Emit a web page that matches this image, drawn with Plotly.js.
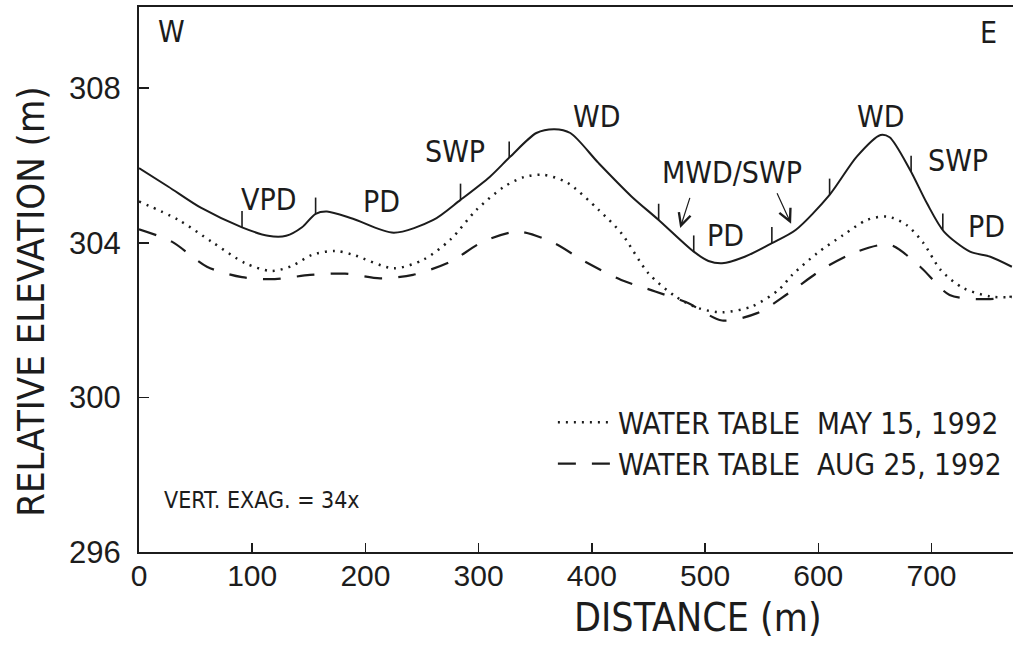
<!DOCTYPE html>
<html>
<head>
<meta charset="utf-8">
<script src="https://cdn.plot.ly/plotly-3.0.1.min.js"></script>
<style>html,body{margin:0;padding:0;background:#fff;overflow:hidden;}#chart{width:1013px;height:653px;}</style>
</head>
<body>
<div id="chart"></div>
<script>
// ---- data ----
const surfaceX = [0, 26, 55, 91, 114, 130, 144, 156, 166, 189, 225, 260, 284, 310, 328, 351, 367, 381, 406, 435, 459, 490, 503, 515, 535, 559, 580, 610, 634, 655, 663, 681, 696, 711, 734, 752, 771];
const surfaceY = [305.93, 305.45, 304.90, 304.40, 304.18, 304.18, 304.40, 304.75, 304.81, 304.62, 304.26, 304.59, 305.11, 305.71, 306.23, 306.84, 306.94, 306.84, 306.06, 305.20, 304.59, 303.77, 303.53, 303.47, 303.64, 303.99, 304.33, 305.24, 306.23, 306.79, 306.73, 305.89, 305.02, 304.29, 303.77, 303.64, 303.38];

const mayX = [0, 35, 64, 94, 117, 135, 153, 173, 189, 225, 251, 275, 298, 322, 340, 357, 378, 406, 426, 450, 474, 494, 515, 541, 565, 577, 599, 622, 643, 661, 678, 693, 708, 728, 752, 771];
const mayY = [305.07, 304.59, 304.03, 303.47, 303.27, 303.40, 303.69, 303.79, 303.69, 303.34, 303.56, 304.08, 304.85, 305.44, 305.70, 305.76, 305.56, 304.85, 304.25, 303.21, 302.61, 302.31, 302.20, 302.35, 302.78, 303.17, 303.73, 304.20, 304.59, 304.68, 304.46, 303.99, 303.30, 302.83, 302.61, 302.59];

const augX = [0, 29, 60, 91, 120, 151, 182, 213, 242, 275, 304, 335, 366, 394, 426, 456, 485, 515, 546, 574, 605, 634, 663, 690, 716, 749, 771];
const augY = [304.35, 304.03, 303.38, 303.11, 303.06, 303.17, 303.20, 303.08, 303.17, 303.51, 304.03, 304.29, 304.00, 303.51, 303.04, 302.74, 302.44, 301.99, 302.18, 302.70, 303.34, 303.77, 303.95, 303.38, 302.65, 302.54, 302.61];

// boundaries between landscape units along the surface profile
const boundaryX = [91, 156, 284, 327, 459, 490, 559, 610, 682, 710];

const unitLabels = ['VPD', 'PD', 'SWP', 'WD', 'MWD/SWP', 'PD', 'WD', 'SWP', 'PD'];
const seriesNames = ['WATER TABLE  MAY 15, 1992', 'WATER TABLE  AUG 25, 1992'];
const xTicks = [0, 100, 200, 300, 400, 500, 600, 700];
const yTicks = [296, 300, 304, 308];
const xTitle = 'DISTANCE (m)';
const yTitle = 'RELATIVE ELEVATION (m)';

// ---- helpers ----
function interp(xs, ys, x) {
  for (let i = 0; i < xs.length - 1; i++) {
    if (x >= xs[i] && x <= xs[i + 1]) {
      const t = (x - xs[i]) / (xs[i + 1] - xs[i]);
      return ys[i] + t * (ys[i + 1] - ys[i]);
    }
  }
  return ys[ys.length - 1];
}
const tickLen = 0.42;
const bx = [], by = [];
boundaryX.forEach(b => {
  const e = interp(surfaceX, surfaceY, b);
  bx.push(b, b, null);
  by.push(e, e + tickLen, null);
});

const INK = '#1c1c1c';
const NARROW = "'Liberation Sans Narrow', 'DejaVu Sans Condensed', 'Arial Narrow', sans-serif";
const REG = "'Liberation Sans', Arial, sans-serif";

const traces = [
  {x: surfaceX, y: surfaceY, mode: 'lines', line: {color: INK, width: 2, shape: 'spline', smoothing: 0.8}, showlegend: false, hoverinfo: 'skip'},
  {x: mayX, y: mayY, mode: 'lines', name: seriesNames[0], line: {color: INK, width: 2.5, dash: '2px,6px', shape: 'spline', smoothing: 0.8}},
  {x: augX, y: augY, mode: 'lines', name: seriesNames[1], line: {color: INK, width: 2.2, dash: '18px,16px', shape: 'spline', smoothing: 0.8}},
  {x: bx, y: by, mode: 'lines', line: {color: INK, width: 1.6}, showlegend: false, hoverinfo: 'skip', connectgaps: false}
];

const labelPos = [
  [115, 305.11], [214, 305.06], [279, 306.35], [404, 307.26], [524, 305.81],
  [518, 304.20], [655, 307.26], [723, 306.12], [749, 304.41]
];
const annotations = unitLabels.map((t, i) => ({
  x: labelPos[i][0], y: labelPos[i][1], xref: 'x', yref: 'y', text: t, showarrow: false,
  font: {family: NARROW, size: 30, color: INK}, xanchor: 'center', yanchor: 'middle'
}));
annotations.push(
  {x: 29, y: 309.47, xref: 'x', yref: 'y', text: 'W', showarrow: false, font: {family: NARROW, size: 30, color: INK}},
  {x: 750, y: 309.45, xref: 'x', yref: 'y', text: 'E', showarrow: false, font: {family: NARROW, size: 30, color: INK}},
  {x: 20, y: 297.35, xref: 'x', yref: 'y', xanchor: 'left', text: 'VERT. EXAG. = 34x', showarrow: false, font: {family: NARROW, size: 23, color: INK}},
  {x: 0.64, y: -0.12, xref: 'paper', yref: 'paper', xanchor: 'center', yanchor: 'middle', text: xTitle, showarrow: false,
   font: {family: NARROW, size: 39, color: INK}},
  {x: -0.123, y: 0.46, xref: 'paper', yref: 'paper', xanchor: 'center', yanchor: 'middle', textangle: -90, text: yTitle, showarrow: false,
   font: {family: NARROW, size: 38, color: INK}},
  {x: 478, y: 304.38, ax: 487, ay: 305.2, xref: 'x', yref: 'y', axref: 'x', ayref: 'y', text: '', showarrow: true,
   arrowhead: 5, arrowsize: 2.0, arrowwidth: 1.2, arrowcolor: INK},
  {x: 576, y: 304.49, ax: 563, ay: 305.32, xref: 'x', yref: 'y', axref: 'x', ayref: 'y', text: '', showarrow: true,
   arrowhead: 5, arrowsize: 2.0, arrowwidth: 1.2, arrowcolor: INK}
);

const layout = {
  width: 1013, height: 653,
  margin: {l: 139, r: 0, t: 7, b: 101, pad: 0},
  paper_bgcolor: '#fff', plot_bgcolor: '#fff',
  showlegend: true,
  legend: {
    x: 0.993, xanchor: 'right', y: 0.285, yanchor: 'top',
    bgcolor: 'rgba(0,0,0,0)', borderwidth: 0,
    font: {family: NARROW, size: 29.5, color: INK},
    itemwidth: 55, tracegroupgap: 0
  },
  xaxis: {
    range: [0, 772], tickvals: xTicks, ticks: 'inside', ticklen: 9, tickwidth: 1.5, tickcolor: INK,
    showline: true, linecolor: INK, linewidth: 2, mirror: true, showgrid: false, zeroline: false,
    tickfont: {family: REG, size: 30, color: INK}, ticklabelstandoff: -4
  },
  yaxis: {
    range: [296, 310.1], tickvals: yTicks, ticks: 'inside', ticklen: 10, tickwidth: 1.5, tickcolor: INK,
    showline: true, linecolor: INK, linewidth: 2, mirror: true, showgrid: false, zeroline: false,
    tickfont: {family: REG, size: 31, color: INK}, ticklabelstandoff: 10
  },
  annotations: annotations
};

Plotly.newPlot('chart', traces, layout, {displayModeBar: false, staticPlot: true});
</script>
</body>
</html>
